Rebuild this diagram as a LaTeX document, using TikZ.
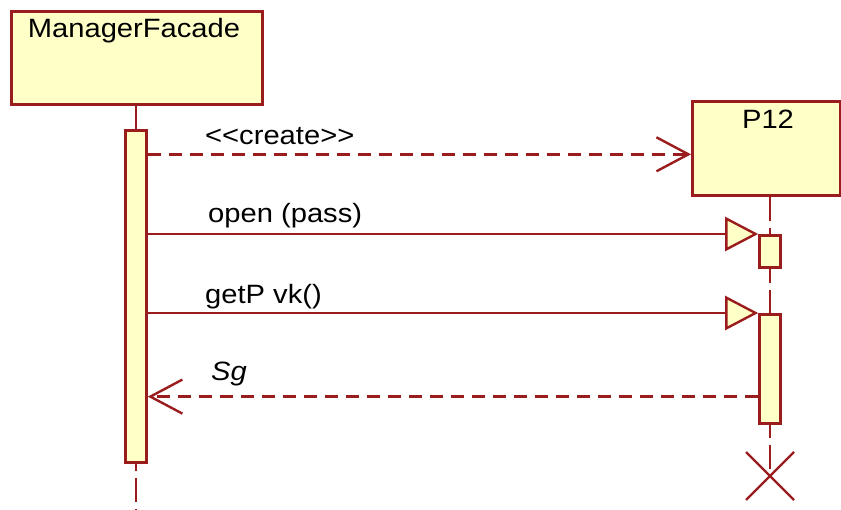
\documentclass[tikz,border=0pt]{standalone}
\usepackage{fontspec}
\setmainfont{Liberation Sans}[FakeStretch=1.1]
\usetikzlibrary{arrows.meta}
\definecolor{umlred}{RGB}{155,28,28}
\definecolor{umlfill}{RGB}{255,255,200}
\tikzset{
	objbox/.style={draw=umlred,fill=umlfill,line width=2.6pt,anchor=north west,inner sep=0pt},
	actbar/.style={draw=umlred,fill=umlfill,line width=2.6pt,anchor=north,minimum width=21pt,inner sep=0pt},
	lifeline/.style={draw=umlred,line width=2.6pt,dash pattern=on 24pt off 7pt},
	callmsg/.style={draw=umlred,line width=2.4pt,-{Triangle[fill=umlfill,length=33pt,width=34pt]}},
	dashmsg/.style={draw=umlred,line width=2.4pt,dash pattern=on 13pt off 8pt,-{Straight Barb[length=32pt,width=34pt]}},
	msglabel/.style={anchor=base west,inner sep=0pt}
}
\begin{document}
\begin{tikzpicture}[x=1pt,y=-1pt,font=\fontsize{26.5}{30}\selectfont]
	\useasboundingbox (0,0) rectangle (841,509);
	% objects
	\node[objbox,minimum width=251pt,minimum height=93pt] (mgr) at (10,10) {};
	\node[objbox,minimum width=148pt,minimum height=94pt] (p12) at (691,100) {};
	\node[anchor=base,inner sep=0pt] (mgrname) at (134,37) {ManagerFacade};
	\node[anchor=base,inner sep=0pt] (p12name) at (768,128) {P12};
	% lifelines
	\coordinate (mgrend) at (136,509);
	\coordinate (kill) at (770,476);
	\draw[lifeline] (mgr.south -| mgrend) -- (mgrend);
	\draw[lifeline] (p12.south -| kill) -- (kill);
	\draw[draw=umlred,line width=2.4pt] ([shift={(-24pt,-24pt)}]kill) -- ([shift={(24pt,24pt)}]kill)
		([shift={(-24pt,24pt)}]kill) -- ([shift={(24pt,-24pt)}]kill);
	% activations
	\node[actbar,minimum height=332pt] (acta) at (136,129) {};
	\node[actbar,minimum height=32pt] (actb) at (770,234) {};
	\node[actbar,minimum height=109pt] (actc) at (770,313) {};
	% messages
	\coordinate (create) at ([yshift=-6pt]p12.west);
	\coordinate (ret) at ([yshift=28pt]actc.south west);
	\draw[dashmsg] (acta.east |- create) -- (create);
	\draw[callmsg] (acta.east |- actb.north west) -- (actb.north west);
	\draw[callmsg] (acta.east |- actc.north west) -- (actc.north west);
	\draw[dashmsg] (ret) -- (acta.east |- ret);
	\node[msglabel] (createlbl) at (205,144) {{<}{<}create{>}{>}};
	\node[msglabel] (openlbl) at (208,222) {open (pass)};
	\node[msglabel] (getlbl) at (205,303) {getP vk()};
	\node[msglabel] (sglbl) at (211,380) {\itshape Sg};
\end{tikzpicture}
\end{document}
